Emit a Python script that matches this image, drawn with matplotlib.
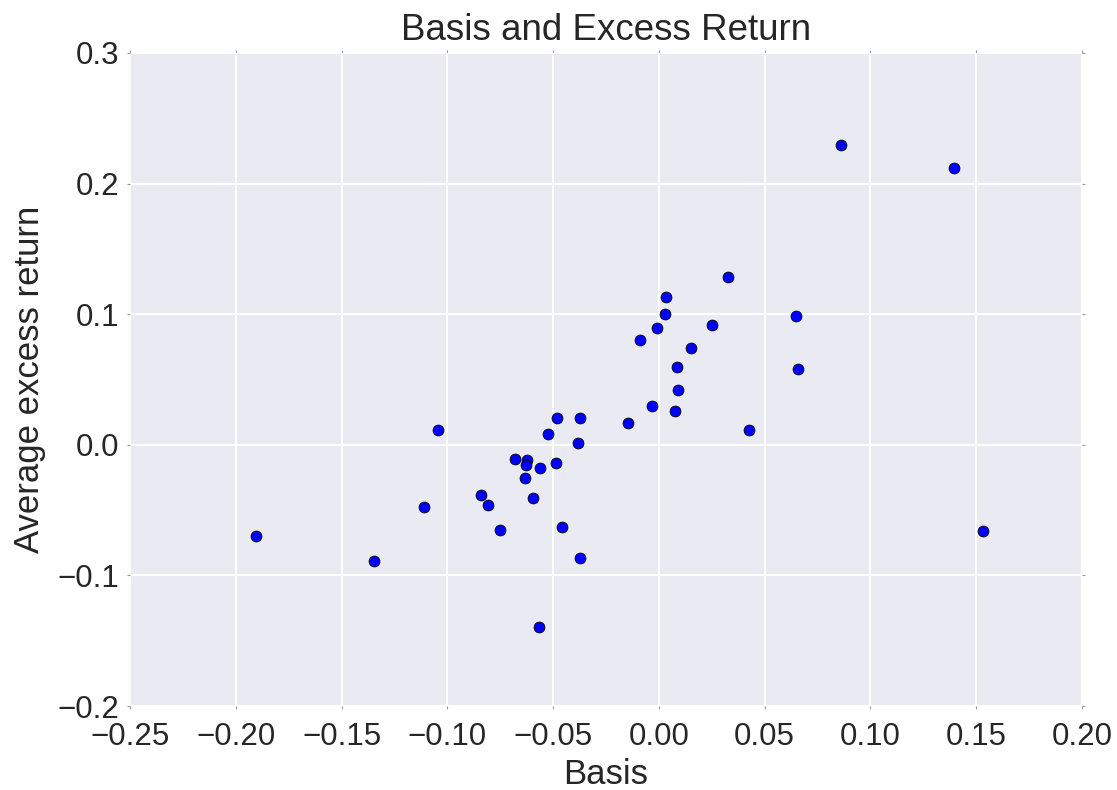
import matplotlib
matplotlib.use("Agg")
import matplotlib.pyplot as plt
import numpy as np

# basis vs average excess return
basis = [-0.1045, -0.1110, -0.0482, -0.0375, -0.0522, -0.0383, -0.0678, -0.0623,
         -0.0626, -0.0563, -0.0485, -0.0631, -0.0839, -0.0806, -0.0593, -0.0749,
         -0.0457, -0.0372, 0.0326, 0.0035, 0.0030, -0.0009, -0.0090, 0.0253,
         0.0150, 0.0648, 0.0656, 0.0087, 0.0088, -0.0031, 0.0074, -0.0148,
         0.0424, 0.0863, 0.1395, 0.1533, -0.1904, -0.1346, -0.0568]
excess = [0.0111, -0.0479, 0.0206, 0.0208, 0.0081, 0.0012, -0.0112, -0.0120,
          -0.0158, -0.0181, -0.0140, -0.0252, -0.0382, -0.0461, -0.0410, -0.0649,
          -0.0631, -0.0870, 0.1285, 0.1130, 0.1002, 0.0893, 0.0799, 0.0918,
          0.0745, 0.0989, 0.0577, 0.0598, 0.0420, 0.0300, 0.0256, 0.0165,
          0.0115, 0.2295, 0.2117, -0.0662, -0.0702, -0.0888, -0.1392]

xticks = [-0.25, -0.20, -0.15, -0.10, -0.05, 0.00, 0.05, 0.10, 0.15, 0.20]
yticks = [-0.2, -0.1, 0.0, 0.1, 0.2, 0.3]


def fmt(v, nd):
    s = "%.*f" % (nd, round(v, nd) + 0.0)
    return s.replace("-", "\u2212")


plt.rcParams['font.family'] = ['Liberation Sans', 'DejaVu Sans']
txt = '#262626'

fig = plt.figure(figsize=(11.17, 7.9), dpi=100)
ax = fig.add_subplot(111)
fig.subplots_adjust(left=130/1117, right=1082/1117, top=1-53/790, bottom=1-706/790)

ax.set_facecolor('#EAEAF2')
for s in ax.spines.values():
    s.set_visible(False)
ax.grid(True, color='white', linewidth=1.5)
ax.set_axisbelow(True)

ax.plot(basis, excess, 'o', color='blue', markeredgecolor='black',
        markeredgewidth=0.6, markersize=7.8)

ax.set_xlim(-0.25, 0.20)
ax.set_ylim(-0.2, 0.3)
ax.set_xticks(xticks)
ax.set_yticks(yticks)
ax.set_xticklabels([fmt(v, 2) for v in xticks])
ax.set_yticklabels([fmt(v, 1) for v in yticks])
ax.tick_params(direction='out', length=2, width=0.8, color='#999999',
               top=True, right=True, labelsize=22.5, labelcolor=txt)
ax.tick_params(axis='x', pad=9.5)
ax.tick_params(axis='y', pad=6)

ax.set_title("Basis and Excess Return", fontsize=26.5, color=txt, pad=9)
ax.set_xlabel("Basis", fontsize=25, color=txt, labelpad=4)
ax.set_ylabel("Average excess return", fontsize=25, color=txt, labelpad=8)

fig.savefig("out.png", dpi=100)
